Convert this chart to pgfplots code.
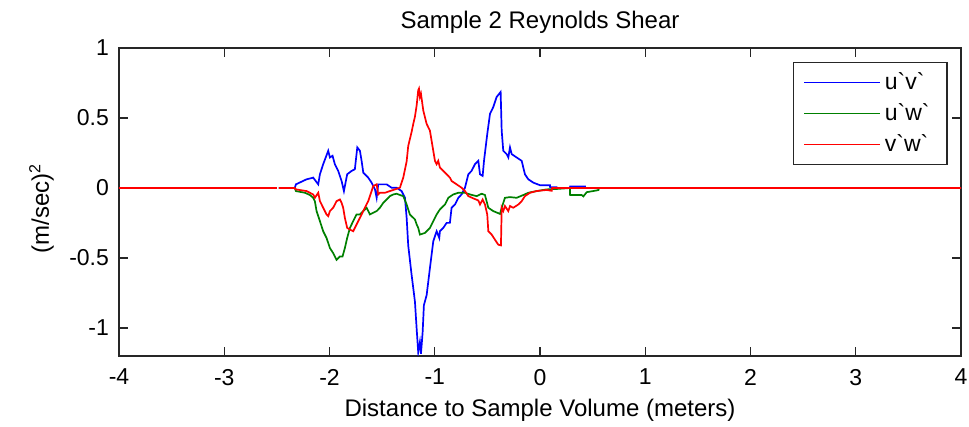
\documentclass[border=0pt]{standalone}
\usepackage{fontspec}
\setmainfont{Liberation Sans}
\usepackage{pgfplots}
\pgfplotsset{compat=1.18}
\definecolor{mblue}{RGB}{0,0,255}
\definecolor{mgreen}{RGB}{0,128,0}
\definecolor{mred}{RGB}{255,0,0}
\begin{document}
\begin{tikzpicture}
\path[use as bounding box] (-59.5pt,-35.5pt) rectangle (425pt,178pt);
\begin{axis}[
  at={(0,0)}, anchor=south west,
  scale only axis, width=421pt, height=154pt,
  xmin=-4, xmax=4, ymin=-1.2, ymax=1,
  xtick={-4,-3,-2,-1,0,1,2,3,4},
  ytick={-1,-0.5,0,0.5,1},
  tick align=inside, major tick length=4.5pt,
  axis line style={line width=0.7pt, black!85},
  every tick/.style={line width=0.7pt, black!85},
  /pgf/number format/assume math mode=true,
  tick label style={font=\fontsize{11.5}{13}\selectfont},
  xticklabel style={yshift=-3pt},
  yticklabel style={xshift=-1.5pt},
  title={Sample 2 Reynolds Shear},
  title style={font=\fontsize{12}{14}\selectfont, at={(axis description cs:0.5,1.023)}, anchor=base},
  xlabel={Distance to Sample Volume (meters)},
  xlabel style={font=\fontsize{12}{14}\selectfont, at={(axis description cs:0.5,-0.195)}, anchor=base},
  ylabel={(m/sec)\textsuperscript{2}},
  ylabel style={font=\fontsize{12}{14}\selectfont, at={(axis description cs:-0.092,0.48)}, anchor=center},
  legend style={at={(axis description cs:0.984,0.9545)}, anchor=north east,
    draw=black!85, line width=0.6pt, inner xsep=5pt, inner ysep=3pt,
    row sep=1.5pt,
    font=\fontsize{11.5}{13}\selectfont,
    nodes={text width=24pt, align=left, inner sep=2pt}},
  legend cell align=left,
  legend image code/.code={\draw[#1, line width=0.75pt] (0pt,0pt) -- (38pt,0pt);},
  unbounded coords=jump,
  every axis plot/.append style={line width=0.85pt},
]
\addplot[mblue] coordinates {
(-4,0) (-2.50,0) (-2.49,nan) (-2.48,0) (-2.33,0)
(-2.319,0.026) (-2.218,0.062) (-2.155,0.074) (-2.107,0.026) (-2.091,0.098) (-2.060,0.170)
(-2.012,0.266) (-1.996,0.218) (-1.971,0.230) (-1.949,0.170) (-1.917,0.122) (-1.885,0.050)
(-1.863,-0.022) (-1.832,0.098) (-1.790,0.122) (-1.759,0.134) (-1.736,0.290) (-1.711,0.266)
(-1.695,0.194) (-1.679,0.110) (-1.632,0.074) (-1.600,0.038) (-1.568,-0.010) (-1.552,-0.070)
(-1.537,0.026) (-1.457,0.026) (-1.410,0.002) (-1.362,0.002) (-1.315,-0.022) (-1.283,-0.070)
(-1.267,-0.213) (-1.252,-0.410) (-1.220,-0.620) (-1.188,-0.813) (-1.172,-1.005) (-1.157,-1.173)
(-1.141,-1.101) (-1.131,-1.185) (-1.115,-1.029) (-1.103,-0.837) (-1.077,-0.765) (-1.046,-0.573)
(-1.014,-0.381) (-0.982,-0.309) (-0.957,-0.357) (-0.951,-0.309) (-0.919,-0.285) (-0.887,-0.249)
(-0.856,-0.249) (-0.840,-0.141) (-0.808,-0.118) (-0.776,-0.070) (-0.745,-0.046) (-0.713,0.002)
(-0.681,0.098) (-0.650,0.122) (-0.618,0.170) (-0.586,0.194) (-0.570,0.098) (-0.545,0.086)
(-0.532,0.194) (-0.501,0.386) (-0.475,0.530) (-0.444,0.578) (-0.412,0.650) (-0.374,0.686)
(-0.364,0.410) (-0.349,0.266) (-0.317,0.242) (-0.301,0.218) (-0.285,0.290) (-0.269,0.242)
(-0.222,0.218) (-0.174,0.194) (-0.143,0.098) (-0.111,0.062) (-0.063,0.038) (0.000,0.020)
(0.095,0.020) (0.096,0.006) (0.158,0.006) (0.160,0) (0.285,0) (0.286,0.010) (0.428,0.010)
(0.430,0) (4,0)
};
\addlegendentry{u\textasciigrave v\textasciigrave}
\addplot[mgreen] coordinates {
(-4,0) (-2.50,0) (-2.49,nan) (-2.48,0) (-2.33,0)
(-2.319,-0.022) (-2.234,-0.034) (-2.186,-0.050) (-2.155,-0.070) (-2.139,-0.094) (-2.123,-0.165)
(-2.091,-0.237) (-2.060,-0.309) (-2.028,-0.357) (-1.996,-0.429) (-1.965,-0.465) (-1.933,-0.513)
(-1.901,-0.489) (-1.876,-0.489) (-1.854,-0.429) (-1.832,-0.357) (-1.806,-0.285) (-1.775,-0.237)
(-1.743,-0.189) (-1.711,-0.189) (-1.679,-0.165) (-1.647,-0.141) (-1.616,-0.189) (-1.584,-0.177)
(-1.552,-0.165) (-1.521,-0.141) (-1.489,-0.106) (-1.457,-0.082) (-1.426,-0.058) (-1.394,-0.046)
(-1.362,-0.041) (-1.331,-0.050) (-1.299,-0.058) (-1.267,-0.118) (-1.236,-0.190) (-1.204,-0.213)
(-1.188,-0.225) (-1.172,-0.260) (-1.157,-0.285) (-1.141,-0.333) (-1.093,-0.321) (-1.046,-0.285)
(-1.014,-0.237) (-0.982,-0.189) (-0.951,-0.153) (-0.903,-0.118) (-0.871,-0.070) (-0.824,-0.046)
(-0.776,-0.034) (-0.713,-0.034) (-0.665,-0.046) (-0.602,-0.058) (-0.554,-0.041) (-0.523,-0.050)
(-0.491,-0.141) (-0.444,-0.165) (-0.380,-0.185) (-0.364,-0.141) (-0.333,-0.070) (-0.285,-0.065)
(-0.222,-0.070) (-0.158,-0.050) (-0.111,-0.034) (-0.032,-0.022) (0.063,-0.010) (0.158,-0.007)
(0.285,0) (0.286,-0.050) (0.396,-0.050) (0.412,-0.060) (0.444,-0.030) (0.555,-0.015)
(0.560,0) (4,0)
};
\addlegendentry{u\textasciigrave w\textasciigrave}
\addplot[mred] coordinates {
(-4,0) (-2.50,0) (-2.49,nan) (-2.48,0) (-2.33,0)
(-2.319,-0.010) (-2.218,-0.022) (-2.155,-0.046) (-2.139,-0.070) (-2.107,-0.034) (-2.091,-0.094)
(-2.060,-0.141) (-2.028,-0.189) (-2.012,-0.201) (-1.996,-0.165) (-1.965,-0.141) (-1.933,-0.094)
(-1.901,-0.082) (-1.885,-0.106) (-1.870,-0.141) (-1.854,-0.213) (-1.832,-0.285) (-1.806,-0.297)
(-1.775,-0.309) (-1.759,-0.285) (-1.727,-0.237) (-1.695,-0.189) (-1.664,-0.141) (-1.632,-0.094)
(-1.600,-0.022) (-1.584,0.014) (-1.552,0.026) (-1.537,-0.046) (-1.521,-0.034) (-1.473,-0.034)
(-1.426,-0.022) (-1.378,-0.010) (-1.331,0.002) (-1.299,0.075) (-1.267,0.190) (-1.252,0.300)
(-1.220,0.400) (-1.204,0.458) (-1.188,0.510) (-1.172,0.590) (-1.157,0.698) (-1.150,0.710)
(-1.141,0.650) (-1.131,0.674) (-1.109,0.554) (-1.077,0.458) (-1.046,0.410) (-1.030,0.338)
(-1.014,0.266) (-0.998,0.194) (-0.982,0.170) (-0.967,0.194) (-0.951,0.146) (-0.919,0.122)
(-0.887,0.098) (-0.856,0.074) (-0.840,0.050) (-0.792,0.026) (-0.745,0.002) (-0.713,-0.022)
(-0.681,-0.058) (-0.634,-0.074) (-0.586,-0.089) (-0.570,-0.118) (-0.545,-0.082) (-0.523,-0.118)
(-0.501,-0.189) (-0.491,-0.309) (-0.459,-0.333) (-0.428,-0.369) (-0.396,-0.405) (-0.371,-0.410)
(-0.364,-0.141) (-0.349,-0.165) (-0.333,-0.129) (-0.301,-0.165) (-0.285,-0.129) (-0.254,-0.141)
(-0.206,-0.118) (-0.174,-0.094) (-0.143,-0.058) (-0.095,-0.034) (-0.032,-0.022) (0.063,-0.014)
(0.111,-0.020) (0.115,0) (4,0)
};
\addlegendentry{v\textasciigrave w\textasciigrave}
\end{axis}
\end{tikzpicture}
\end{document}
